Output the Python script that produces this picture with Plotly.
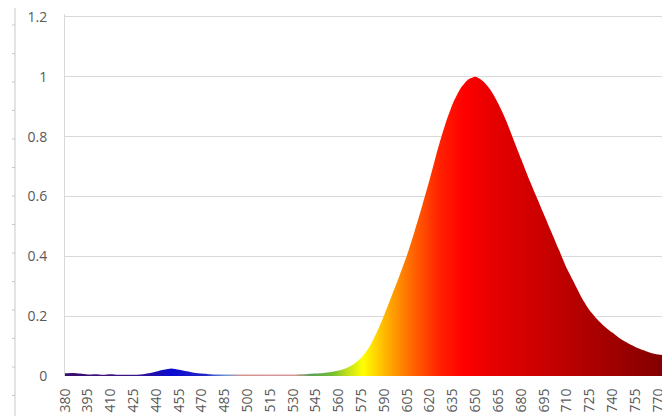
import plotly.graph_objects as go

# comprimento de onda (nm) e intensidade relativa
wavelength = list(range(380, 785, 5))
intensity = [
    0.009, 0.010, 0.008, 0.005, 0.006, 0.004, 0.006, 0.004, 0.004, 0.004,   # 380-425
    0.005, 0.009, 0.015, 0.021, 0.025, 0.021, 0.016, 0.011, 0.008, 0.006,   # 430-475
    0.005, 0.005, 0.005, 0.005, 0.005, 0.005, 0.005, 0.005, 0.005, 0.005,   # 480-525
    0.005, 0.006, 0.007, 0.008, 0.010, 0.013, 0.018, 0.026, 0.040, 0.062,   # 530-575
    0.095, 0.145, 0.205, 0.270, 0.335, 0.405, 0.485, 0.570, 0.660, 0.755,   # 580-625
    0.840, 0.910, 0.960, 0.990, 1.000, 0.985, 0.955, 0.910, 0.855, 0.790,   # 630-675
    0.725, 0.660, 0.600, 0.540, 0.480, 0.420, 0.360, 0.310, 0.260, 0.220,   # 680-725
    0.190, 0.165, 0.145, 0.125, 0.110, 0.097, 0.087, 0.078, 0.072, 0.069,   # 730-775
    0.066,                                                                  # 780
]
x_ticks = list(range(380, 785, 15))
y_ticks = [0, 0.2, 0.4, 0.6, 0.8, 1, 1.2]

# cores do espectro (nm, cor)
spectrum = [
    (380, "#3a0c6e"), (425, "#3a1488"), (440, "#1c10b4"), (450, "#0a0ad2"),
    (472, "#2424c4"), (486, "#6c9ad6"), (496, "#d89292"), (530, "#d89898"),
    (542, "#5aa05a"), (556, "#74c030"), (566, "#c4e01c"), (576, "#ffff00"),
    (590, "#ffb800"), (606, "#ff7000"), (626, "#ff2200"), (642, "#ff0000"),
    (662, "#e60000"), (692, "#cc0000"), (722, "#b00000"), (752, "#960000"),
    (780, "#7c0000"),
]
g0, g1 = spectrum[0][0], spectrum[-1][0]
colorscale = [[(nm - g0) / (g1 - g0), c] for nm, c in spectrum]

# a página tem 8px de margem no body, então a figura é 8px menor
OFF = 8
W, H = 670 - OFF, 416 - OFF
Y_TOP = 1.21
px_per_unit = (376 - 17) / 1.2
ML, MR = 65 - OFF, 0
MT = round(17 - (Y_TOP - 1.2) * px_per_unit) - OFF
MB = H - (376 - OFF)
x_max = 380 + (W - ML - MR) * 390 / 593   # 770 fica em ~658px

fig = go.Figure()
fig.add_trace(go.Scatter(
    x=wavelength, y=intensity, mode="lines", line=dict(width=0, shape="spline", smoothing=0.6),
    fill="tozeroy",
    fillgradient=dict(type="horizontal", colorscale=colorscale, start=g0, stop=g1),
    hoverinfo="x+y", showlegend=False,
))

fig.update_xaxes(range=[380, x_max], tickvals=x_ticks, ticktext=[str(v) for v in x_ticks],
                 tickangle=-90, showgrid=False, zeroline=False, showline=False,
                 ticks="outside", ticklen=6, tickcolor="rgba(0,0,0,0)", ticklabeloverflow="allow")
fig.update_yaxes(range=[0, Y_TOP], tickvals=y_ticks, showgrid=True, gridcolor="#d9d9d9", gridwidth=1,
                 zeroline=False, showline=True, linecolor="#d9d9d9", linewidth=1,
                 ticks="outside", ticklen=14, tickcolor="rgba(0,0,0,0)", ticklabeloverflow="allow")

# régua cinza à esquerda (fundo da captura)
pw, ph = W - ML - MR, H - MT - MB
def px(x):
    return (x - OFF - ML) / pw
def py(y):
    return 1 - (y - OFF - MT) / ph

shapes = [dict(type="line", xref="paper", yref="paper", x0=px(15), x1=px(15), y0=py(8), y1=py(416),
               line=dict(color="#c8c8c8", width=1))]
yy = 25
while yy < 416:
    shapes.append(dict(type="line", xref="paper", yref="paper", x0=px(12), x1=px(15), y0=py(yy), y1=py(yy),
                       line=dict(color="#c8c8c8", width=1)))
    yy += 28.5

fig.update_layout(
    width=W, height=H, margin=dict(l=ML, r=MR, t=MT, b=MB),
    paper_bgcolor="white", plot_bgcolor="white",
    font=dict(family="Open Sans", size=14, color="#595959"),
    shapes=shapes,
)

fig.write_html("out.html")
